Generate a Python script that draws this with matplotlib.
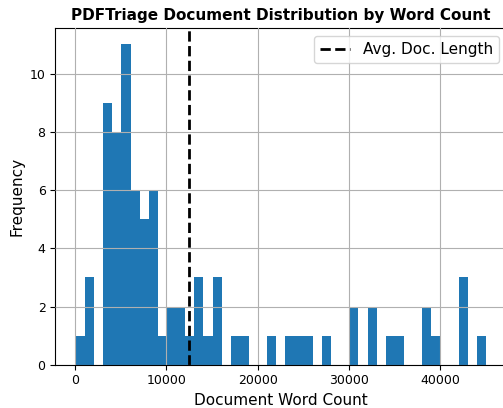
import numpy as np
import matplotlib
matplotlib.use("Agg")
import matplotlib.pyplot as plt

# Histogram data
word_min = 80
word_max = 45020
counts = [1, 3, 0, 9, 8, 11, 6, 5, 6, 1, 2, 2, 1, 3, 1, 3, 0, 1, 1, 0,
          0, 1, 0, 1, 1, 1, 0, 1, 0, 0, 2, 0, 2, 0, 1, 1, 0, 0, 2, 1,
          0, 0, 3, 0, 1]
avg_length = 12520

n_bins = len(counts)
edges = np.linspace(word_min, word_max, n_bins + 1)
centers = (edges[:-1] + edges[1:]) / 2

fig = plt.figure(figsize=(5.03, 4.08), dpi=100)
ax = fig.add_axes([0.110, 0.106, 0.897, 0.8245])
ax.hist(centers, bins=edges, weights=counts, color="#1f77b4")
ax.axvline(avg_length, color="black", linestyle="--", linewidth=2, label="Avg. Doc. Length")
ax.grid(True)
ax.set_axisbelow(False)
ax.set_title("PDFTriage Document Distribution by Word Count", fontweight="bold", fontsize=11)
ax.set_xlabel("Document Word Count", fontsize=11)
ax.set_ylabel("Frequency", fontsize=11)
ax.tick_params(labelsize=9)
ax.legend(loc="upper right", fontsize=11)
fig.savefig("out.png", dpi=100)
